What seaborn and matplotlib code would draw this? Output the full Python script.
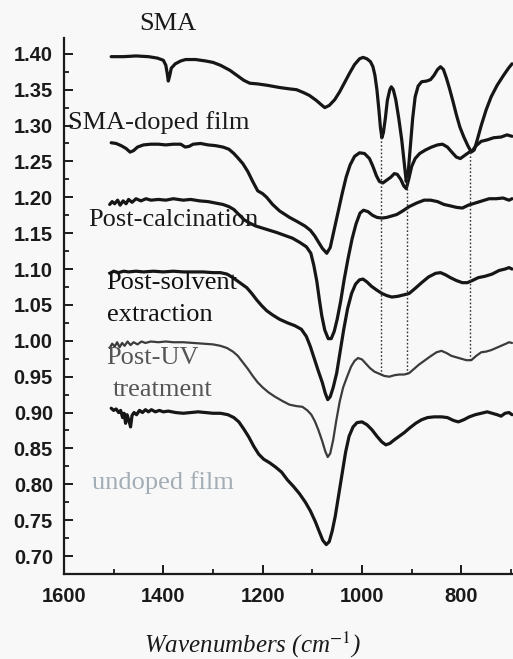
import numpy as np
import pandas as pd
import matplotlib
matplotlib.use("Agg")
import matplotlib.pyplot as plt
from matplotlib.ticker import MultipleLocator
import seaborn as sns

# ---- FTIR spectra (wavenumber in cm^-1, offset absorbance) ----
sma_wn = [1505, 1480, 1455, 1430, 1412, 1400, 1395, 1392, 1390, 1387, 1384, 1376, 1365, 1355,
          1335, 1315, 1300, 1285, 1266, 1250, 1238, 1226, 1210, 1190, 1166, 1145, 1132, 1118,
          1106, 1092, 1082, 1075, 1066, 1055, 1045, 1035, 1025, 1015, 1005, 998, 990, 983, 978,
          974, 970, 966, 963, 960, 957, 953, 949, 944, 941, 937, 932, 926, 920, 915, 911, 907,
          903, 898, 893, 887, 880, 870, 862, 855, 848, 842, 836, 830, 824, 817, 810, 803, 795,
          787, 780, 774, 768, 760, 750, 740, 728, 715, 705, 698]
sma_abs = [1.396, 1.396, 1.397, 1.396, 1.394, 1.391, 1.384, 1.372, 1.362, 1.370, 1.380, 1.386,
           1.390, 1.392, 1.392, 1.390, 1.388, 1.384, 1.377, 1.369, 1.363, 1.359, 1.358, 1.356,
           1.353, 1.351, 1.350, 1.346, 1.342, 1.335, 1.329, 1.325, 1.328, 1.336, 1.347, 1.360,
           1.373, 1.385, 1.393, 1.395, 1.393, 1.389, 1.382, 1.370, 1.350, 1.322, 1.298, 1.283,
           1.290, 1.310, 1.335, 1.350, 1.354, 1.350, 1.336, 1.310, 1.280, 1.248, 1.222, 1.235,
           1.268, 1.310, 1.340, 1.355, 1.361, 1.362, 1.364, 1.370, 1.378, 1.382, 1.378, 1.366,
           1.352, 1.334, 1.315, 1.298, 1.284, 1.272, 1.263, 1.266, 1.280, 1.300, 1.322, 1.340,
           1.356, 1.370, 1.380, 1.386]

doped_wn = [1505, 1495, 1485, 1475, 1467, 1460, 1452, 1440, 1425, 1410, 1395, 1380, 1365, 1356,
            1348, 1340, 1325, 1310, 1295, 1280, 1268, 1258, 1250, 1240, 1230, 1220, 1210, 1200,
            1192, 1180, 1166, 1146, 1130, 1115, 1104, 1095, 1088, 1080, 1071, 1064, 1056, 1048,
            1040, 1032, 1024, 1015, 1005, 995, 985, 978, 971, 965, 958, 950, 942, 935, 929, 922,
            916, 911, 906, 900, 893, 884, 872, 860, 848, 838, 828, 818, 810, 802, 794, 786, 778,
            770, 760, 748, 735, 720, 708, 698]
doped_abs = [1.276, 1.275, 1.272, 1.268, 1.263, 1.265, 1.270, 1.273, 1.274, 1.274, 1.273, 1.274,
             1.274, 1.270, 1.271, 1.274, 1.275, 1.273, 1.272, 1.270, 1.267, 1.261, 1.255, 1.247,
             1.236, 1.222, 1.209, 1.205, 1.200, 1.190, 1.181, 1.172, 1.166, 1.160, 1.154, 1.146,
             1.138, 1.129, 1.122, 1.130, 1.155, 1.180, 1.205, 1.228, 1.245, 1.257, 1.262, 1.261,
             1.254, 1.243, 1.230, 1.222, 1.220, 1.224, 1.228, 1.233, 1.232, 1.225, 1.216, 1.212,
             1.225, 1.243, 1.254, 1.261, 1.266, 1.270, 1.273, 1.274, 1.270, 1.262, 1.256, 1.254,
             1.258, 1.262, 1.265, 1.272, 1.278, 1.280, 1.283, 1.284, 1.287, 1.285]

calc_wn = [1508, 1503, 1498, 1492, 1487, 1481, 1475, 1470, 1463, 1455, 1445, 1435, 1425, 1410,
           1395, 1380, 1360, 1345, 1327, 1310, 1295, 1280, 1268, 1258, 1248, 1238, 1226, 1214,
           1200, 1186, 1172, 1156, 1140, 1125, 1112, 1103, 1097, 1091, 1086, 1081, 1075, 1068,
           1062, 1056, 1050, 1043, 1036, 1028, 1020, 1012, 1004, 997, 988, 979, 970, 960, 950,
           940, 930, 918, 905, 890, 875, 862, 848, 835, 822, 810, 798, 786, 772, 758, 744, 730,
           716, 704, 698]
calc_abs = [1.190, 1.194, 1.191, 1.196, 1.189, 1.195, 1.191, 1.197, 1.193, 1.198, 1.195, 1.198,
            1.196, 1.197, 1.196, 1.198, 1.196, 1.197, 1.195, 1.194, 1.192, 1.190, 1.187, 1.183,
            1.176, 1.169, 1.164, 1.160, 1.157, 1.154, 1.151, 1.147, 1.143, 1.137, 1.131, 1.122,
            1.105, 1.083, 1.058, 1.035, 1.015, 1.003, 1.003, 1.013, 1.030, 1.055, 1.085, 1.115,
            1.142, 1.163, 1.178, 1.182, 1.180, 1.175, 1.172, 1.171, 1.172, 1.174, 1.176, 1.181,
            1.187, 1.192, 1.196, 1.196, 1.194, 1.190, 1.188, 1.186, 1.185, 1.189, 1.192, 1.195,
            1.198, 1.198, 1.199, 1.196, 1.198]

solv_wn = [1508, 1500, 1490, 1480, 1470, 1455, 1440, 1420, 1400, 1380, 1360, 1340, 1320, 1300,
           1285, 1272, 1262, 1252, 1242, 1232, 1222, 1212, 1202, 1192, 1180, 1166, 1150, 1135,
           1122, 1112, 1104, 1096, 1088, 1080, 1074, 1069, 1064, 1058, 1051, 1044, 1037, 1029,
           1021, 1013, 1005, 998, 990, 981, 971, 960, 950, 940, 928, 916, 905, 893, 880, 866,
           852, 842, 832, 822, 810, 798, 788, 778, 766, 752, 738, 724, 712, 704, 698]
solv_abs = [1.094, 1.097, 1.095, 1.097, 1.096, 1.097, 1.096, 1.097, 1.096, 1.097, 1.096, 1.096,
            1.096, 1.095, 1.095, 1.093, 1.089, 1.084, 1.079, 1.074, 1.066, 1.057, 1.049, 1.042,
            1.036, 1.030, 1.025, 1.021, 1.016, 1.006, 0.992, 0.975, 0.958, 0.942, 0.927, 0.918,
            0.922, 0.935, 0.955, 0.985, 1.015, 1.045, 1.066, 1.079, 1.085, 1.086, 1.082, 1.076,
            1.071, 1.066, 1.063, 1.061, 1.062, 1.064, 1.066, 1.073, 1.081, 1.089, 1.094, 1.095,
            1.092, 1.088, 1.084, 1.081, 1.081, 1.084, 1.088, 1.090, 1.093, 1.098, 1.100, 1.102,
            1.100]

uv_wn = [1508, 1503, 1498, 1493, 1488, 1483, 1478, 1472, 1466, 1460, 1452, 1444, 1436, 1425,
         1410, 1395, 1380, 1360, 1340, 1320, 1300, 1285, 1272, 1260, 1250, 1240, 1230, 1220,
         1210, 1200, 1188, 1175, 1160, 1146, 1132, 1120, 1110, 1102, 1095, 1088, 1080, 1074,
         1069, 1064, 1058, 1052, 1045, 1038, 1030, 1022, 1015, 1008, 1000, 992, 984, 975, 965,
         955, 945, 935, 925, 915, 905, 895, 885, 875, 863, 850, 840, 830, 820, 810, 800, 790,
         780, 770, 760, 750, 740, 730, 720, 710, 704, 698]
uv_abs = [0.990, 0.996, 0.992, 0.998, 0.991, 0.997, 0.993, 0.999, 0.994, 0.998, 0.995, 0.999,
          0.997, 0.999, 0.998, 0.999, 0.998, 0.998, 0.997, 0.996, 0.995, 0.993, 0.990, 0.985,
          0.979, 0.970, 0.961, 0.951, 0.942, 0.935, 0.928, 0.922, 0.916, 0.911, 0.909, 0.908,
          0.903, 0.897, 0.888, 0.876, 0.860, 0.846, 0.838, 0.843, 0.862, 0.888, 0.915, 0.935,
          0.950, 0.964, 0.972, 0.976, 0.974, 0.968, 0.962, 0.957, 0.954, 0.951, 0.950, 0.952,
          0.953, 0.953, 0.955, 0.961, 0.967, 0.972, 0.978, 0.984, 0.986, 0.983, 0.979, 0.977,
          0.975, 0.973, 0.973, 0.979, 0.984, 0.985, 0.987, 0.990, 0.993, 0.996, 0.998, 0.997]

undoped_wn = [1505, 1500, 1495, 1490, 1486, 1482, 1479, 1476, 1473, 1469, 1466, 1463, 1459, 1454,
              1448, 1442, 1436, 1430, 1424, 1416, 1408, 1400, 1390, 1375, 1360, 1345, 1330,
              1315, 1300, 1285, 1270, 1258, 1248, 1238, 1228, 1218, 1208, 1198, 1186, 1174,
              1162, 1150, 1138, 1126, 1114, 1104, 1094, 1086, 1079, 1072, 1066, 1060, 1054,
              1047, 1040, 1033, 1026, 1018, 1010, 1000, 990, 980, 970, 960, 952, 944, 935, 925,
              915, 905, 892, 880, 868, 855, 840, 828, 816, 806, 795, 784, 772, 760, 748, 738,
              728, 720, 712, 704, 698]
undoped_abs = [0.906, 0.903, 0.905, 0.900, 0.903, 0.893, 0.899, 0.885, 0.897, 0.888, 0.880,
               0.896, 0.900, 0.897, 0.903, 0.900, 0.904, 0.901, 0.904, 0.901, 0.903, 0.901,
               0.902, 0.900, 0.899, 0.900, 0.901, 0.900, 0.899, 0.899, 0.897, 0.893, 0.887,
               0.877, 0.866, 0.853, 0.842, 0.835, 0.830, 0.824, 0.817, 0.806, 0.797, 0.787,
               0.775, 0.763, 0.748, 0.734, 0.722, 0.716, 0.720, 0.735, 0.755, 0.785, 0.815,
               0.845, 0.867, 0.880, 0.886, 0.887, 0.883, 0.876, 0.867, 0.859, 0.855, 0.857,
               0.862, 0.867, 0.872, 0.878, 0.885, 0.890, 0.893, 0.894, 0.894, 0.893, 0.889,
               0.887, 0.890, 0.894, 0.897, 0.899, 0.901, 0.899, 0.897, 0.895, 0.899, 0.900,
               0.897]

# SMA bands marked with dotted guides
band_positions = [961, 909, 782]

spectra = [
    ("SMA", sma_wn, sma_abs),
    ("SMA-doped film", doped_wn, doped_abs),
    ("Post-calcination", calc_wn, calc_abs),
    ("Post-solvent extraction", solv_wn, solv_abs),
    ("Post-UV treatment", uv_wn, uv_abs),
    ("undoped film", undoped_wn, undoped_abs),
]

df = pd.concat(
    [pd.DataFrame({"wavenumber": w, "absorbance": a, "spectrum": name})
     for name, w, a in spectra],
    ignore_index=True,
)

sns.set_style("ticks")
plt.rcParams["mathtext.fontset"] = "stix"

bg = "#f8f8f8"
fig = plt.figure(figsize=(5.13, 6.59), dpi=100, facecolor=bg)
ax = fig.add_axes([64 / 513, 85 / 659, 449 / 513, 536 / 659])
ax.set_facecolor(bg)

line_style = {
    "Post-UV treatment": dict(color="#3c3c3c", lw=1.6),
}
for name, _, _ in spectra:
    st = line_style.get(name, dict(color="#161616", lw=2.3))
    sns.lineplot(data=df[df["spectrum"] == name], x="wavenumber", y="absorbance",
                 ax=ax, sort=False, estimator=None, color=st["color"],
                 linewidth=st["lw"], legend=False)

# dotted guides from the SMA band minima down to the Post-UV spectrum
sma_x = np.array(sma_wn[::-1]); sma_y = np.array(sma_abs[::-1])
uv_x = np.array(uv_wn[::-1]); uv_y = np.array(uv_abs[::-1])
for wn in band_positions:
    top = np.interp(wn, sma_x, sma_y)
    bottom = np.interp(wn, uv_x, uv_y)
    ax.plot([wn, wn], [bottom, top], color="#333333", lw=1.0, ls=(0, (1.2, 1.5)))

ax.set_xlim(1600, 696)
ax.set_ylim(0.675, 1.422)
ax.xaxis.set_major_locator(MultipleLocator(200))
ax.xaxis.set_minor_locator(MultipleLocator(100))
ax.yaxis.set_major_locator(MultipleLocator(0.05))
ax.yaxis.set_minor_locator(MultipleLocator(0.025))
ax.yaxis.set_major_formatter(plt.FuncFormatter(lambda v, p: f"{v:.2f}"))

for s in ("top", "right"):
    ax.spines[s].set_visible(False)
for s in ("left", "bottom"):
    ax.spines[s].set_linewidth(1.6)
    ax.spines[s].set_color("#1a1a1a")

ax.tick_params(which="major", direction="in", length=6.5, width=1.4, color="#1a1a1a")
ax.tick_params(which="minor", direction="in", length=3.5, width=1.3, color="#1a1a1a")
ax.tick_params(axis="y", which="major", pad=8)
ax.tick_params(axis="x", which="major", pad=9)
for lab in ax.get_xticklabels() + ax.get_yticklabels():
    lab.set_fontfamily("Liberation Sans")
    lab.set_fontweight("bold")
    lab.set_fontsize(14.5)
    lab.set_color("#1a1a1a")

ax.set_xlabel("")
ax.set_ylabel("")

serif = dict(family="Liberation Serif", fontsize=19, va="center", clip_on=False)
ax.text(1391, 1.442, "SMA", ha="center", color="#1a1a1a", **serif)
ax.text(1592, 1.304, "SMA-doped film", ha="left", color="#1a1a1a", **serif)
ax.text(1552, 1.168, "Post-calcination", ha="left", color="#1a1a1a", **serif)
ax.text(1514, 1.081, "Post-solvent", ha="left", color="#111111", **serif)
ax.text(1514, 1.036, "extraction", ha="left", color="#111111", **serif)
ax.text(1514, 0.976, "Post-UV", ha="left", color="#555555", **serif)
ax.text(1502, 0.931, "treatment", ha="left", color="#555555", **serif)
ax.text(1544, 0.802, "undoped film", ha="left", color="#a3adb5", **serif)

fig.text(253 / 513, 1 - 645 / 659, "Wavenumbers (cm$^{-1}$)", ha="center", va="center",
         family="Liberation Serif", style="italic", fontsize=18, color="#1a1a1a")

fig.savefig("out.png", dpi=100, facecolor=bg)
